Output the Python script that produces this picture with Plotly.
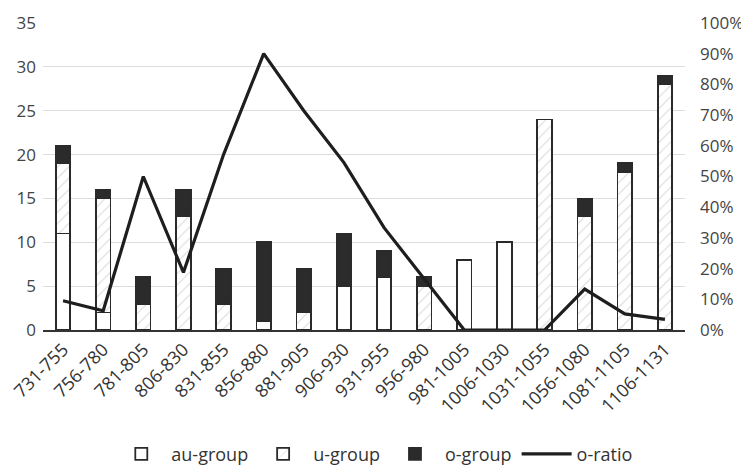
import plotly.graph_objects as go

categories = ["731-755", "756-780", "781-805", "806-830", "831-855", "856-880",
              "881-905", "906-930", "931-955", "956-980", "981-1005", "1006-1030",
              "1031-1055", "1056-1080", "1081-1105", "1106-1131"]
au_group = [11, 2, 0, 0, 0, 1, 0, 5, 6, 0, 8, 10, 0, 0, 0, 0]
u_group = [8, 13, 3, 13, 3, 0, 2, 0, 0, 5, 0, 0, 24, 13, 18, 28]
o_group = [2, 1, 3, 3, 4, 9, 5, 6, 3, 1, 0, 0, 0, 2, 1, 1]
o_ratio = [o / (a + u + o) for a, u, o in zip(au_group, u_group, o_group)]

left_ticks = [0, 5, 10, 15, 20, 25, 30, 35]
right_ticks = [i / 10 for i in range(11)]
right_labels = [f"{i * 10}%" for i in range(11)]

edge = "#2a2a2a"
fig = go.Figure()
fig.add_trace(go.Bar(x=categories, y=au_group, name="au-group",
                     marker=dict(color="white", line=dict(color=edge, width=1.8)),
                     width=0.36))
fig.add_trace(go.Bar(x=categories, y=u_group, name="u-group",
                     marker=dict(color="white", line=dict(color=edge, width=1.8),
                                 pattern=dict(shape="/", fgcolor="#b0b0b0", bgcolor="white",
                                              size=8, solidity=0.12)),
                     width=0.36))
fig.add_trace(go.Bar(x=categories, y=o_group, name="o-group",
                     marker=dict(color="#2b2b2b", line=dict(color=edge, width=1.8)),
                     width=0.36))
fig.add_trace(go.Scatter(x=categories, y=o_ratio, name="o-ratio", yaxis="y2",
                         mode="lines", line=dict(color="#1e1e1e", width=3.2)))

fig.update_layout(
    width=741, height=460,
    barmode="stack",
    paper_bgcolor="white", plot_bgcolor="white",
    margin=dict(l=35, r=64, t=15, b=138, autoexpand=False),
    font=dict(family="Open Sans, Noto Sans, sans-serif", color="#444", size=14),
    xaxis=dict(showgrid=False, tickangle=-45, tickfont=dict(size=18, color="#333"),
               showline=True, linecolor="#333", linewidth=2, ticks="", zeroline=False,
               automargin=False),
    yaxis=dict(range=[0, 35], tickvals=left_ticks, showgrid=True, gridcolor="#dcdcdc",
               gridwidth=1.2, zeroline=False, showline=False, automargin=False,
               tickfont=dict(size=17, color="#444"), ticklabelstandoff=6),
    yaxis2=dict(range=[0, 1], tickvals=right_ticks, ticktext=right_labels,
                overlaying="y", side="right", showgrid=False, zeroline=False,
                showline=False, automargin=False,
                tickfont=dict(size=17, color="#444"), ticklabelstandoff=14),
    legend=dict(orientation="h", x=0.495, xanchor="center", xref="container",
                y=0.03, yanchor="middle", yref="container", itemwidth=50,
                font=dict(size=18, color="#333"), traceorder="normal"),
    showlegend=True,
)

fig.write_html("out.html")
